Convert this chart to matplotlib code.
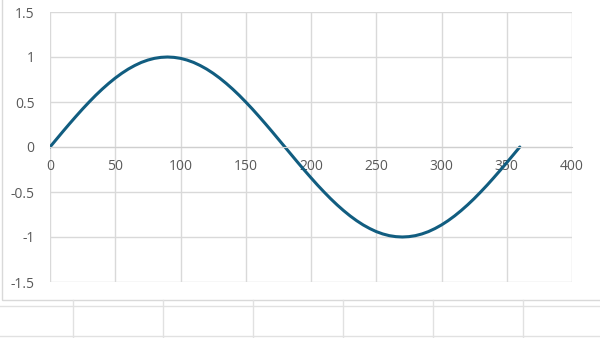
import matplotlib.pyplot as plt
from matplotlib.lines import Line2D
from matplotlib.patches import Rectangle

# angle in degrees and the value (5 degree steps)
angles = [0, 5, 10, 15, 20, 25, 30, 35, 40, 45, 50, 55, 60, 65, 70, 75, 80, 85, 90,
          95, 100, 105, 110, 115, 120, 125, 130, 135, 140, 145, 150, 155, 160, 165, 170, 175, 180,
          185, 190, 195, 200, 205, 210, 215, 220, 225, 230, 235, 240, 245, 250, 255, 260, 265, 270,
          275, 280, 285, 290, 295, 300, 305, 310, 315, 320, 325, 330, 335, 340, 345, 350, 355, 360]
values = [0.0, 0.087, 0.174, 0.259, 0.342, 0.423, 0.5, 0.574, 0.643, 0.707, 0.766, 0.819, 0.866, 0.906, 0.94, 0.966, 0.985, 0.996, 1.0,
          0.996, 0.985, 0.966, 0.94, 0.906, 0.866, 0.819, 0.766, 0.707, 0.643, 0.574, 0.5, 0.423, 0.342, 0.259, 0.174, 0.087, 0.0,
          -0.087, -0.174, -0.259, -0.342, -0.423, -0.5, -0.574, -0.643, -0.707, -0.766, -0.819, -0.866, -0.906, -0.94, -0.966, -0.985, -0.996, -1.0,
          -0.996, -0.985, -0.966, -0.94, -0.906, -0.866, -0.819, -0.766, -0.707, -0.643, -0.574, -0.5, -0.423, -0.342, -0.259, -0.174, -0.087, 0.0]

x_ticks = [0, 50, 100, 150, 200, 250, 300, 350, 400]
y_ticks = [-1.5, -1, -0.5, 0, 0.5, 1, 1.5]
y_labels = ["-1.5", "-1", "-0.5", "0", "0.5", "1", "1.5"]

plt.rcParams['font.family'] = ['Open Sans', 'DejaVu Sans']

W, H = 600, 338
fig = plt.figure(figsize=(W / 100, H / 100), dpi=100)
fig.patch.set_facecolor('white')

grid_c = '#d9d9d9'
cell_c = '#e1e1e1'

# spreadsheet background below the chart
for yy in (306, 336):
    fig.add_artist(Line2D([0, 1], [1 - yy / H] * 2, color=cell_c, lw=1, transform=fig.transFigure))
for xx in (73, 163, 253, 343, 433, 523):
    fig.add_artist(Line2D([xx / W] * 2, [0, 1 - 300 / H], color=cell_c, lw=1, transform=fig.transFigure))

# chart area border
fig.add_artist(Rectangle((2 / W, 1 - 300 / H), 1.2, 1.2, fill=False, edgecolor=grid_c, lw=1,
                         transform=fig.transFigure))

ax = fig.add_axes([50 / W, 1 - 282 / H, 522 / W, 270 / H])
ax.plot(angles, values, color='#115d80', lw=2.2, solid_capstyle='round', solid_joinstyle='round')

ax.set_xlim(0, 400)
ax.set_ylim(-1.5, 1.5)
ax.set_xticks(x_ticks)
ax.set_yticks(y_ticks)
ax.set_yticklabels(y_labels)
ax.grid(True, color=grid_c, lw=1)
ax.set_axisbelow(True)

for s in ('left', 'right', 'top'):
    ax.spines[s].set_visible(False)
ax.spines['bottom'].set_position(('data', 0))
ax.spines['bottom'].set_color('#cfcfcf')

ax.tick_params(axis='both', length=0, labelsize=10, labelcolor='#595959')
ax.tick_params(axis='y', pad=11)
ax.tick_params(axis='x', pad=9)

fig.savefig('out.png', dpi=100)
